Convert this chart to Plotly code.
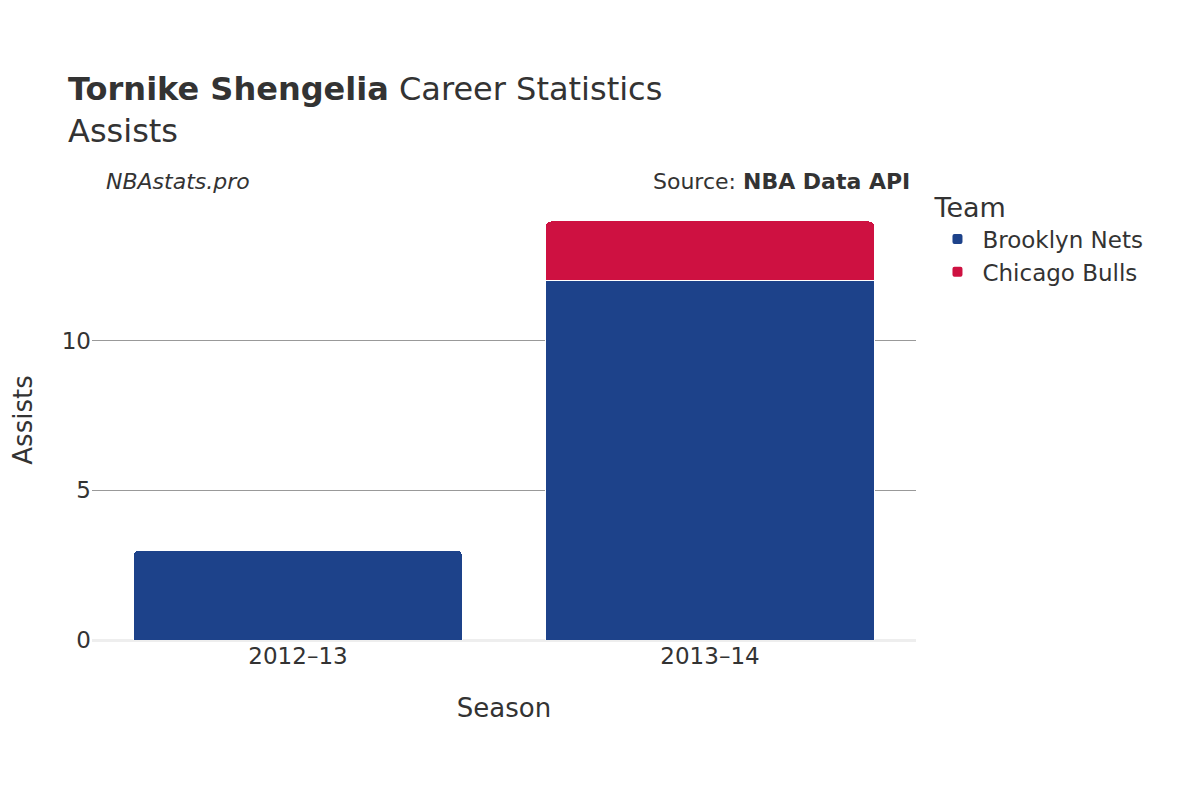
import plotly.graph_objects as go

seasons = ["2012–13", "2013–14"]
nets = [3, 12]
bulls = [0, 2]

fig = go.Figure()
fig.add_bar(x=seasons, y=nets, name="Brooklyn Nets", marker=dict(color="#1D428A", line=dict(color="white", width=1)))
fig.add_bar(x=seasons, y=bulls, name="Chicago Bulls", marker=dict(color="#CE1141", line=dict(color="white", width=1)))

fig.update_layout(
    barmode="stack", barcornerradius=6, bargap=0.2,
    width=1200, height=800,
    font=dict(family="DejaVu Sans", color="#333", size=20),
    plot_bgcolor="white", paper_bgcolor="white",
    margin=dict(l=84, r=292, t=192, b=168),
    title=dict(text="<b>Tornike Shengelia</b> Career Statistics<br>Assists", x=0.05, y=0.885, xanchor="left", font=dict(size=32)),
    legend=dict(title=dict(text="Team", font=dict(size=27)), traceorder="normal", x=1.02, y=1.04, yanchor="top",
                font=dict(size=23), itemsizing="constant", itemwidth=40),
    xaxis=dict(title=dict(text="Season", font=dict(size=26), standoff=30), tickfont=dict(size=23)),
    yaxis=dict(title=dict(text="Assists", font=dict(size=26), standoff=25), tickfont=dict(size=23), range=[0, 14.7],
               gridcolor="#999", zeroline=True, zerolinecolor="#eee", zerolinewidth=3, tickvals=[0, 5, 10]),
    annotations=[
        dict(text="<i>NBAstats.pro</i>", xref="paper", yref="paper", x=0.015, y=1.01, xanchor="left", yanchor="bottom", showarrow=False, font=dict(size=22)),
        dict(text="Source: <b>NBA Data API</b>", xref="paper", yref="paper", x=0.995, y=1.01, xanchor="right", yanchor="bottom", showarrow=False, font=dict(size=22)),
    ],
)
fig.write_html("out.html")
